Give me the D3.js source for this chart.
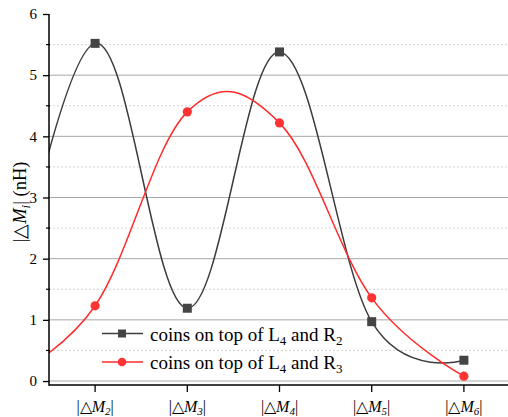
<!DOCTYPE html>
<html>
<head>
<meta charset="utf-8">
<script src="https://cdn.jsdelivr.net/npm/d3@7"></script>
<style>
  body { margin: 0; background: #fff; }
  text { font-family: "Liberation Serif", "Times New Roman", serif; }
</style>
</head>
<body>
<svg id="chart"></svg>
<script>
// subscripts of the |ΔM_k| categories on the x axis
const categories = ['2', '3', '4', '5', '6'];
const seriesR2 = [5.52, 1.19, 5.38, 0.97, 0.34];
const seriesR3 = [1.23, 4.40, 4.22, 1.36, 0.08];
// |ΔM1| sits left of the visible range; only its pull on the spline shows
const leadR2 = 0.5;
const leadR3 = 0.0;
const yTicks = [0, 1, 2, 3, 4, 5, 6];
const yMinor = [0.5, 1.5, 2.5, 3.5, 4.5, 5.5];

const width = 508, height = 417;
const padLeft = 49, padTop = 14, axisY = 385;

const svg = d3.select('#chart').attr('width', width).attr('height', height);

const x = d3.scaleLinear().domain([-0.5, 4.5]).range([padLeft, 510]);
const y = d3.scaleLinear().domain([-0.065, 6]).range([axisY, padTop]);

// grid
svg.append('g').selectAll('line')
  .data(yMinor).enter().append('line')
  .attr('x1', padLeft).attr('x2', width)
  .attr('y1', d => y(d)).attr('y2', d => y(d))
  .attr('stroke', '#d4d4d4').attr('stroke-width', 1)
  .attr('stroke-dasharray', '2,2');

svg.append('g').selectAll('line')
  .data(yTicks.filter(d => d < 6)).enter().append('line')
  .attr('x1', padLeft).attr('x2', width)
  .attr('y1', d => y(d)).attr('y2', d => y(d))
  .attr('stroke', '#a8a8a8').attr('stroke-width', 1);

// lines
svg.append('clipPath').attr('id', 'plot')
  .append('rect').attr('x', padLeft).attr('y', 0).attr('width', width - padLeft).attr('height', axisY);

const line = d3.line()
  .x(d => x(d[0]))
  .y(d => y(d[1]))
  .curve(d3.curveCardinal.tension(-0.1));

const pts = (lead, vals) => [[-1, lead]].concat(vals.map((v, i) => [i, v]));

const g = svg.append('g').attr('clip-path', 'url(#plot)');
g.append('path').datum(pts(leadR2, seriesR2))
  .attr('d', line).attr('fill', 'none')
  .attr('stroke', '#3c3c3c').attr('stroke-width', 1.5);
g.append('path').datum(pts(leadR3, seriesR3))
  .attr('d', line).attr('fill', 'none')
  .attr('stroke', '#ff2b2b').attr('stroke-width', 1.5);

// markers
svg.append('g').selectAll('rect')
  .data(seriesR2).enter().append('rect')
  .attr('x', (d, i) => x(i) - 4.5).attr('y', d => y(d) - 4.5)
  .attr('width', 9).attr('height', 9)
  .attr('fill', '#444');
svg.append('g').selectAll('circle')
  .data(seriesR3).enter().append('circle')
  .attr('cx', (d, i) => x(i)).attr('cy', d => y(d)).attr('r', 4.6)
  .attr('fill', '#ff3333');

// axes
const yAxis = svg.append('g').attr('transform', 'translate(' + padLeft + ',0)')
  .call(d3.axisLeft(y).tickValues(yTicks).tickSize(6).tickPadding(6).tickFormat(d3.format('d')));
yAxis.select('.domain').remove();
yAxis.selectAll('.tick line').attr('stroke', '#000').attr('stroke-width', 1.3);
yAxis.selectAll('.tick text').attr('font-size', 15).attr('fill', '#000')
  .attr('font-family', '"Liberation Serif", serif');

svg.append('g').selectAll('line')
  .data(yMinor).enter().append('line')
  .attr('x1', padLeft - 3).attr('x2', padLeft + 1)
  .attr('y1', d => y(d)).attr('y2', d => y(d))
  .attr('stroke', '#000').attr('stroke-width', 1.2);

svg.append('line').attr('x1', padLeft).attr('x2', padLeft)
  .attr('y1', padTop).attr('y2', axisY + 0.75)
  .attr('stroke', '#000').attr('stroke-width', 1.5);
svg.append('line').attr('x1', padLeft).attr('x2', width)
  .attr('y1', axisY).attr('y2', axisY)
  .attr('stroke', '#000').attr('stroke-width', 1.5);

svg.append('g').selectAll('line')
  .data(categories).enter().append('line')
  .attr('x1', (d, i) => x(i)).attr('x2', (d, i) => x(i))
  .attr('y1', axisY).attr('y2', axisY + 7)
  .attr('stroke', '#000').attr('stroke-width', 1.3);

const xl = svg.append('g').selectAll('text')
  .data(categories).enter().append('text')
  .attr('x', (d, i) => x(i)).attr('y', 412)
  .attr('text-anchor', 'middle').attr('font-size', 16);
xl.append('tspan').text('|\u25B3');
xl.append('tspan').attr('font-style', 'italic').text('M');
xl.append('tspan').attr('font-style', 'italic').attr('font-size', 11).attr('dy', 3).text(d => d);
xl.append('tspan').attr('dy', -3).text('|');

// y title
const yt = svg.append('text')
  .attr('transform', 'translate(26,202) rotate(-90)')
  .attr('text-anchor', 'middle').attr('font-size', 18.5);
yt.append('tspan').text('|\u25B3');
yt.append('tspan').attr('font-style', 'italic').text('M');
yt.append('tspan').attr('font-style', 'italic').attr('font-size', 13).attr('dy', 4).text('i');
yt.append('tspan').attr('dy', -4).text('| (nH)');

// legend
const legend = [
  { color: '#3c3c3c', marker: 'square', r: '2' },
  { color: '#ff2b2b', marker: 'circle', r: '3' }
];
const lg = svg.append('g').selectAll('g')
  .data(legend).enter().append('g')
  .attr('transform', (d, i) => 'translate(0,' + (333.5 + i * 28.5) + ')');
lg.append('line').attr('x1', 102).attr('x2', 143)
  .attr('stroke', d => d.color).attr('stroke-width', 1.5);
lg.filter(d => d.marker === 'square').append('rect')
  .attr('x', 118).attr('y', -4).attr('width', 8).attr('height', 8).attr('fill', '#444');
lg.filter(d => d.marker === 'circle').append('circle')
  .attr('cx', 122).attr('cy', 0).attr('r', 4.3).attr('fill', '#ff3333');
const lt = lg.append('text').attr('x', 150).attr('y', 7).attr('font-size', 19);
lt.append('tspan').text('coins on top of L');
lt.append('tspan').attr('font-size', 13).attr('dy', 4).text('4');
lt.append('tspan').attr('dy', -4).text(' and R');
lt.append('tspan').attr('font-size', 13).attr('dy', 4).text(d => d.r);
</script>
</body>
</html>
